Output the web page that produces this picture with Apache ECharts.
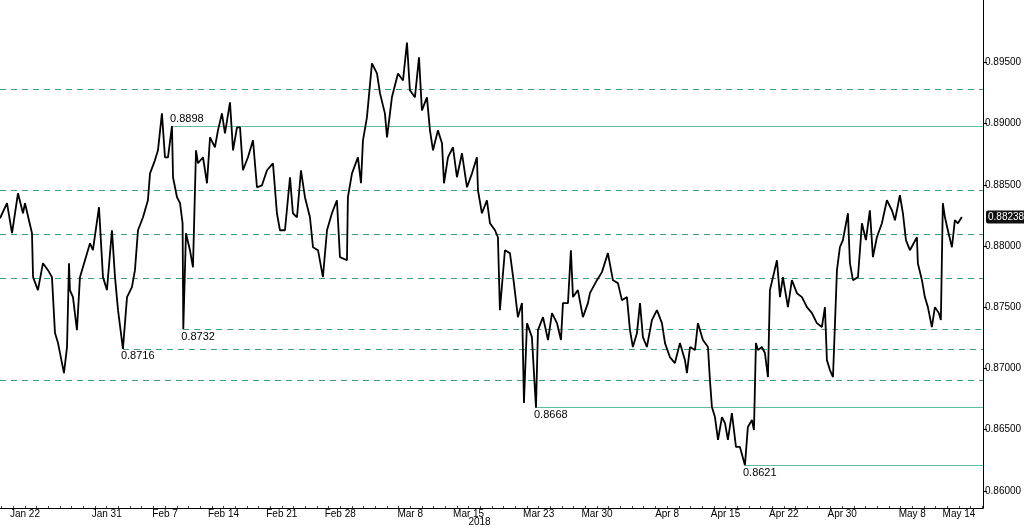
<!DOCTYPE html>
<html>
<head>
<meta charset="utf-8">
<script src="https://cdn.jsdelivr.net/npm/echarts@6/dist/echarts.min.js"></script>
<style>
  html, body { margin: 0; padding: 0; background: #fff; }
  #chart { width: 1024px; height: 528px; }
</style>
</head>
<body>
<div id="chart"></div>
<script>
// trading days counted from Mon Jan 22 2018 (weekends skipped)
const days = [
  -2.14, -1.54, -1.11, -0.60, -0.17, 0.00, 0.60, 0.69, 1.11, 1.54, 1.97, 2.31, 2.57, 2.83, 3.17, 3.34,
  3.60, 3.77, 3.85, 4.11, 4.45, 4.71, 5.14, 5.57, 5.82, 6.34, 6.68, 7.02, 7.45, 7.71, 7.97, 8.39,
  8.74, 9.16, 9.42, 9.68, 10.11, 10.53, 10.71, 11.13, 11.39, 11.73, 11.99, 12.25, 12.59, 12.68, 13.02, 13.28,
  13.50, 13.56, 13.79, 14.13, 14.39, 14.65, 14.82, 15.25, 15.59, 15.85, 16.27, 16.53, 16.87, 17.13, 17.56, 17.82,
  18.16, 18.42, 18.67, 19.10, 19.53, 19.87, 20.30, 20.73, 21.24, 21.58, 21.84, 22.27, 22.70, 22.95, 23.30, 23.64,
  23.98, 24.41, 24.67, 25.10, 25.52, 25.87, 26.29, 26.72, 26.98, 27.58, 27.66, 28.01, 28.52, 28.78, 28.95, 29.29,
  29.72, 30.15, 30.41, 30.83, 31.01, 31.43, 31.95, 32.38, 32.72, 32.97, 33.40, 33.75, 34.00, 34.43, 34.69, 34.95,
  35.37, 35.72, 35.89, 36.23, 36.66, 37.00, 37.43, 37.86, 38.29, 38.71, 38.80, 39.14, 39.57, 39.83, 40.26, 40.51,
  40.68, 41.11, 41.54, 41.88, 42.22, 42.57, 42.74, 43.00, 43.42, 43.77, 43.94, 44.37, 44.80, 45.14, 45.57, 45.91,
  46.08, 46.51, 46.76, 46.94, 47.36, 47.79, 48.22, 48.39, 48.99, 49.42, 49.93, 50.36, 50.79, 51.13, 51.56, 51.82,
  52.07, 52.42, 52.68, 52.93, 53.27, 53.70, 54.13, 54.56, 54.82, 55.24, 55.67, 56.10, 56.53, 56.70, 56.96, 57.39,
  57.64, 58.07, 58.50, 58.67, 58.84, 59.10, 59.36, 59.70, 59.96, 60.21, 60.55, 60.90, 61.24, 61.67, 61.92, 62.27,
  62.44, 62.61, 62.78, 63.12, 63.38, 63.64, 63.81, 64.41, 64.67, 64.92, 65.35, 65.69, 66.12, 66.55, 66.98, 67.41,
  67.83, 68.26, 68.52, 68.69, 68.95, 69.21, 69.55, 69.80, 70.06, 70.49, 70.66, 70.92, 71.35, 71.69, 72.03, 72.37,
  72.63, 72.97, 73.40, 73.83, 74.26, 74.52, 74.94, 75.20, 75.46, 75.80, 76.40, 76.48, 76.83, 77.08, 77.34, 77.68,
  77.94, 78.28, 78.45, 78.62, 78.80, 79.05, 79.40, 79.65, 79.91, 80.25
];
const price = [
  0.88227, 0.88350, 0.88105, 0.88431, 0.88268, 0.88350, 0.88105, 0.87746, 0.87640, 0.87860, 0.87803, 0.87746, 0.87289, 0.87207, 0.87044, 0.86962,
  0.87175, 0.87860, 0.87640, 0.87583, 0.87313, 0.87746, 0.87884, 0.88023, 0.87966, 0.88317, 0.87746, 0.87640, 0.88129, 0.87746, 0.87476, 0.87160,
  0.87583, 0.87664, 0.87803, 0.88129, 0.88235, 0.88374, 0.88594, 0.88700, 0.88782, 0.89084, 0.88725, 0.88725, 0.88980, 0.88562, 0.88399, 0.88350,
  0.88186, 0.87320, 0.88105, 0.87966, 0.87827, 0.88782, 0.88676, 0.88725, 0.88513, 0.88888, 0.88807, 0.88945, 0.89084, 0.88921, 0.89174, 0.88782,
  0.88970, 0.88970, 0.88619, 0.88725, 0.88864, 0.88480, 0.88496, 0.88619, 0.88676, 0.88268, 0.88129, 0.88129, 0.88562, 0.88268, 0.88235, 0.88619,
  0.88399, 0.88235, 0.87990, 0.87966, 0.87746, 0.88129, 0.88268, 0.88374, 0.87909, 0.87884, 0.88399, 0.88594, 0.88725, 0.88513, 0.88864, 0.89051,
  0.89492, 0.89410, 0.89247, 0.89084, 0.88888, 0.89215, 0.89410, 0.89353, 0.89663, 0.89272, 0.89215, 0.89541, 0.89108, 0.89215, 0.88945, 0.88782,
  0.88945, 0.88839, 0.88513, 0.88725, 0.88807, 0.88562, 0.88758, 0.88480, 0.88594, 0.88725, 0.88456, 0.88268, 0.88374, 0.88186, 0.88129, 0.88072,
  0.87476, 0.87966, 0.87942, 0.87697, 0.87419, 0.87534, 0.86718, 0.87370, 0.87256, 0.86680, 0.87313, 0.87419, 0.87232, 0.87452, 0.87370, 0.87232,
  0.87534, 0.87534, 0.87966, 0.87583, 0.87640, 0.87419, 0.87534, 0.87615, 0.87721, 0.87787, 0.87942, 0.87721, 0.87697, 0.87558, 0.87583, 0.87313,
  0.87175, 0.87289, 0.87534, 0.87256, 0.87175, 0.87395, 0.87476, 0.87370, 0.87207, 0.87093, 0.87044, 0.87207, 0.87068, 0.86962, 0.87175, 0.87150,
  0.87370, 0.87232, 0.87175, 0.86905, 0.86685, 0.86603, 0.86416, 0.86603, 0.86554, 0.86416, 0.86636, 0.86359, 0.86359, 0.86210, 0.86522, 0.86579,
  0.86497, 0.87207, 0.87150, 0.87175, 0.87126, 0.86930, 0.87640, 0.87884, 0.87583, 0.87746, 0.87501, 0.87721, 0.87615, 0.87583, 0.87501, 0.87452,
  0.87370, 0.87338, 0.87501, 0.87068, 0.86987, 0.86930, 0.87803, 0.87990, 0.88048, 0.88268, 0.87860, 0.87721, 0.87746, 0.88186, 0.88048, 0.88292,
  0.87909, 0.88072, 0.88186, 0.88374, 0.88292, 0.88211, 0.88415, 0.88268, 0.88048, 0.87966, 0.88072, 0.87860, 0.87721, 0.87583, 0.87501, 0.87338,
  0.87501, 0.87452, 0.87395, 0.88350, 0.88235, 0.88129, 0.87990, 0.88211, 0.88186, 0.88238
];

const tickDays = [0, 7, 12, 17, 22, 27, 33, 38, 44, 49, 55, 60, 65, 70, 76, 80];
const tickLabels = ['Jan 22', 'Jan 31', 'Feb 7', 'Feb 14', 'Feb 21', 'Feb 28', 'Mar 8', 'Mar 15',
  'Mar 23', 'Mar 30', 'Apr 8', 'Apr 15', 'Apr 22', 'Apr 30', 'May 8', 'May 14'];
const yTicks = [0.86, 0.865, 0.87, 0.875, 0.88, 0.885, 0.89, 0.895];

// full width dashed levels
const dashedLevels = [0.89279, 0.88454, 0.88094, 0.87735, 0.86902];
// dashed levels drawn from a low to the right edge
const dashedFromDays = [8.39, 13.56];
const dashedFromValues = [0.8716, 0.8732];
// solid levels drawn from an extreme to the right edge
const solidFromDays = [12.59, 43.77, 61.67];
const solidFromValues = [0.8898, 0.8668, 0.8621];
const lastPrice = 0.88238;

const xMin = -2.14;
const xMax = 82.06;
const yMin = 0.8586;
const yMax = 0.9001;

const allDays = [];
for (let d = -2; d <= 82; d++) allDays.push(d);

const chart = echarts.init(document.getElementById('chart'));

const dashColor = '#3f9c84';
const solidColor = '#62bca2';
const font = 'Liberation Sans';

const levelLabel = (pos) => ({
  show: true,
  position: pos,
  distance: [-2, 2],
  formatter: p => p.value.toFixed(4),
  color: '#000',
  fontFamily: font,
  fontSize: 11
});

const dashedData = dashedFromValues.map((v, i) => [
  { coord: [dashedFromDays[i], v], value: v, label: levelLabel('insideStartBottom') },
  { coord: [xMax, v] }
]);

const solidData = solidFromValues.map((v, i) => [
  { coord: [solidFromDays[i], v], value: v, label: levelLabel(v > 0.885 ? 'insideStartTop' : 'insideStartBottom') },
  { coord: [xMax, v] }
]);

const option = {
  animation: false,
  grid: { left: 0, right: 41, top: 0, bottom: 20, outerBoundsMode: 'none', containLabel: false },
  xAxis: {
    type: 'value',
    min: xMin,
    max: xMax,
    name: '2018',
    nameLocation: 'middle',
    nameGap: 9,
    nameMoveOverlap: false,
    nameTextStyle: { color: '#000', fontFamily: font, fontSize: 10, padding: [0, 24, 0, 0] },
    splitLine: { show: false },
    axisLine: { onZero: false, lineStyle: { color: '#000', width: 1 } },
    axisTick: { inside: true, length: 2, lineStyle: { color: '#444' }, customValues: allDays },
    axisLabel: {
      customValues: tickDays,
      margin: 1,
      color: '#000',
      fontFamily: font,
      fontSize: 10,
      formatter: v => {
        const i = tickDays.indexOf(Math.round(v));
        return i >= 0 ? tickLabels[i] : '';
      }
    }
  },
  yAxis: [
    {
      type: 'value',
      position: 'right',
      min: yMin,
      max: yMax,
      splitLine: { show: false },
      axisLine: { show: true, onZero: false, lineStyle: { color: '#000', width: 1 } },
      axisTick: { show: true, length: 4, lineStyle: { color: '#000' }, customValues: yTicks },
      axisLabel: {
        customValues: yTicks,
        margin: 2,
        color: '#000',
        fontFamily: font,
        fontSize: 10,
        formatter: v => v.toFixed(5)
      }
    },
    {
      // carries the full width dashed levels as split lines
      type: 'value',
      position: 'right',
      min: yMin,
      max: yMax,
      axisLine: { show: false, onZero: false },
      axisTick: { show: false, customValues: dashedLevels },
      axisLabel: { show: false, customValues: dashedLevels },
      splitLine: { show: true, lineStyle: { color: dashColor, type: [6, 5], width: 1 } }
    }
  ],
  series: [
    {
      name: 'EURGBP',
      type: 'line',
      data: days.map((d, i) => [d, price[i]]),
      showSymbol: false,
      symbol: 'none',
      color: '#000',
      lineStyle: { color: '#000', width: 1.8 },
      z: 5,
      markLine: {
        silent: true,
        symbol: 'none',
        precision: 5,
        lineStyle: { color: 'rgba(0,0,0,0)', width: 1 },
        label: {
          show: true,
          position: 'end',
          distance: 3,
          formatter: lastPrice.toFixed(5),
          color: '#fff',
          backgroundColor: '#111',
          padding: [2, 2, 1, 2],
          borderRadius: 2,
          fontFamily: font,
          fontSize: 10
        },
        data: [{ yAxis: lastPrice }]
      }
    },
    {
      name: 'dashed levels',
      type: 'line',
      data: [],
      z: 3,
      markLine: {
        silent: true,
        symbol: 'none',
        precision: 5,
        lineStyle: { color: dashColor, type: [6, 5], width: 1 },
        data: dashedData
      }
    },
    {
      name: 'solid levels',
      type: 'line',
      data: [],
      z: 3,
      markLine: {
        silent: true,
        symbol: 'none',
        precision: 5,
        lineStyle: { color: solidColor, type: 'solid', width: 1 },
        data: solidData
      }
    }
  ]
};

chart.setOption(option);
</script>
</body>
</html>
